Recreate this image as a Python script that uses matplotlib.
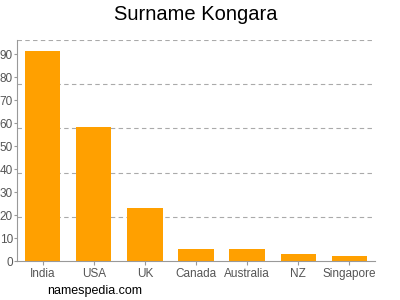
import matplotlib.pyplot as plt
import numpy as np

plt.rcParams['font.family'] = ['Liberation Sans', 'DejaVu Sans']

countries = ['India', 'USA', 'UK', 'Canada', 'Australia', 'NZ', 'Singapore']
counts = [91.3, 58.2, 23.0, 5.2, 5.2, 3.2, 2.2]
yticks = [0, 10, 20, 30, 40, 50, 60, 70, 80, 90]

fig = plt.figure(figsize=(4, 3), dpi=100)
ax = fig.add_axes([0.0425, 0.13, 0.895, 0.7367])

x = np.arange(len(countries))
ax.bar(x, counts, width=0.69, color='#FFA000', zorder=2)

ax.set_xlim(-0.5, len(countries) - 0.5)
ax.set_ylim(0, 96.2)
ax.set_xticks(x)
ax.set_xticklabels(countries)
ax.set_yticks(yticks)

# dashed grid at five equal divisions
for g in np.linspace(0, 96.2, 6)[1:]:
    ax.axhline(g, color='#aaaaaa', linestyle=(0, (4, 3)), linewidth=0.8, zorder=1)

for s in ['top', 'right']:
    ax.spines[s].set_visible(False)
for s in ['left', 'bottom']:
    ax.spines[s].set_color('#999999')
    ax.spines[s].set_linewidth(0.8)

ax.tick_params(axis='both', colors='#999999', labelcolor='#555555', labelsize=8.5, width=0.8)
ax.tick_params(axis='x', length=3, pad=2)
ax.tick_params(axis='y', length=2, pad=1)

fig.text(0.49, 0.95, 'Surname Kongara', ha='center', va='center', fontsize=14.5)
fig.text(0.118, 0.03, 'namespedia.com', ha='left', va='center', fontsize=9)

fig.savefig('out.png')
